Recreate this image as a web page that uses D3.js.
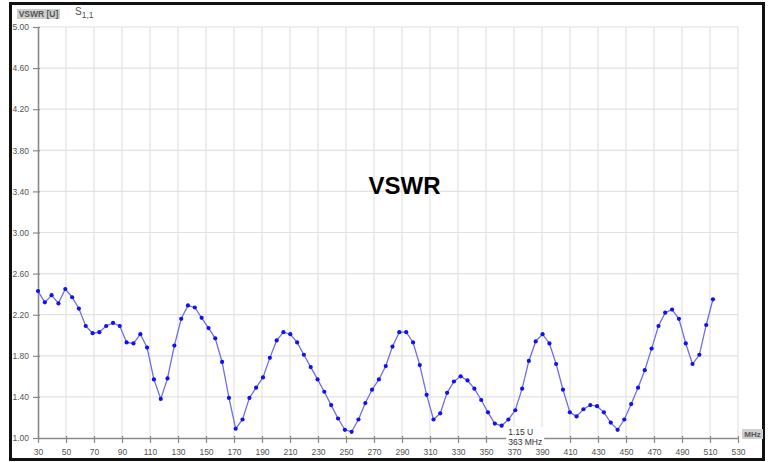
<!DOCTYPE html>
<html>
<head>
<meta charset="utf-8">
<script src="https://cdn.jsdelivr.net/npm/d3@7"></script>
<style>
  body { margin: 0; background: #fff; }
  text { font-family: "Liberation Sans", Arial, sans-serif; }
</style>
</head>
<body>
<div class="chart"></div>
<script>
var svgWidth = 771;
var svgHeight = 462;

// frequency of each sample (MHz)
var freqs = [
  30.0, 34.9, 39.7, 44.6, 49.5, 54.4, 59.2, 64.1, 69.0, 73.8,
  78.7, 83.6, 88.4, 93.3, 98.2, 103.1, 107.9, 112.8, 117.7, 122.5,
  127.4, 132.3, 137.1, 142.0, 146.9, 151.8, 156.6, 161.5, 166.4, 171.2,
  176.1, 181.0, 185.8, 190.7, 195.6, 200.5, 205.3, 210.2, 215.1, 219.9,
  224.8, 229.7, 234.5, 239.4, 244.3, 249.2, 254.0, 258.9, 263.8, 268.6,
  273.5, 278.4, 283.2, 288.1, 293.0, 297.9, 302.7, 307.6, 312.5, 317.3,
  322.2, 327.1, 331.9, 336.8, 341.7, 346.6, 351.4, 356.3, 361.2, 366.0,
  370.9, 375.8, 380.6, 385.5, 390.4, 395.3, 400.1, 405.0, 409.9, 414.7,
  419.6, 424.5, 429.3, 434.2, 439.1, 444.0, 448.8, 453.7, 458.6, 463.4,
  468.3, 473.2, 478.0, 482.9, 487.8, 492.7, 497.5, 502.4, 507.3, 512.1
];

// VSWR readings (U)
var vswr = [
  2.43, 2.32, 2.39, 2.31, 2.45, 2.37, 2.26, 2.09, 2.02, 2.03,
  2.09, 2.12, 2.09, 1.93, 1.92, 2.01, 1.88, 1.57, 1.38, 1.58,
  1.90, 2.16, 2.29, 2.27, 2.17, 2.07, 1.97, 1.74, 1.39, 1.09,
  1.18, 1.39, 1.49, 1.59, 1.78, 1.95, 2.03, 2.01, 1.93, 1.81,
  1.69, 1.57, 1.45, 1.32, 1.19, 1.08, 1.06, 1.18, 1.34, 1.47,
  1.57, 1.70, 1.89, 2.03, 2.03, 1.93, 1.71, 1.42, 1.18, 1.24,
  1.44, 1.55, 1.60, 1.56, 1.48, 1.37, 1.25, 1.14, 1.12, 1.18,
  1.27, 1.48, 1.75, 1.94, 2.01, 1.92, 1.72, 1.47, 1.25, 1.21,
  1.28, 1.32, 1.31, 1.25, 1.15, 1.08, 1.18, 1.33, 1.49, 1.66,
  1.87, 2.09, 2.22, 2.25, 2.16, 1.92, 1.72, 1.81, 2.10, 2.35
];

var xTicks = [30, 50, 70, 90, 110, 130, 150, 170, 190, 210, 230, 250, 270,
  290, 310, 330, 350, 370, 390, 410, 430, 450, 470, 490, 510, 530];
var yTicks = [1.00, 1.40, 1.80, 2.20, 2.60, 3.00, 3.40, 3.80, 4.20, 4.60, 5.00];

var markerFreq = 363;
var markerValue = 1.15;

var svg = d3.select(".chart")
  .append("svg")
  .attr("width", svgWidth)
  .attr("height", svgHeight);

// outer frame
svg.append("rect")
  .attr("x", 10.5)
  .attr("y", 3.5)
  .attr("width", 753)
  .attr("height", 456)
  .attr("fill", "#fff")
  .attr("stroke", "#111")
  .attr("stroke-width", 3);

var xScale = d3.scaleLinear().domain([30, 530]).range([38, 738]);
var yScale = d3.scaleLinear().domain([1, 5]).range([438, 27]);

// grid
svg.append("g")
  .selectAll("line")
  .data(xTicks.slice(1))
  .enter()
  .append("line")
  .attr("x1", d => xScale(d))
  .attr("x2", d => xScale(d))
  .attr("y1", yScale(5))
  .attr("y2", yScale(1))
  .attr("stroke", "#e2e2e2")
  .attr("stroke-width", 1.2);

svg.append("g")
  .selectAll("line")
  .data(yTicks.slice(1))
  .enter()
  .append("line")
  .attr("x1", xScale(30))
  .attr("x2", xScale(530))
  .attr("y1", d => yScale(d))
  .attr("y2", d => yScale(d))
  .attr("stroke", "#e2e2e2")
  .attr("stroke-width", 1.2);

// axes
var bottomAxis = d3.axisBottom(xScale)
  .tickValues(xTicks)
  .tickSize(5)
  .tickSizeOuter(0)
  .tickFormat(d3.format("d"));
var leftAxis = d3.axisLeft(yScale)
  .tickValues(yTicks)
  .tickSize(5)
  .tickSizeOuter(0)
  .tickFormat(d3.format(".2f"));

var xAxis = svg.append("g")
  .attr("transform", `translate(0, ${yScale(1)})`)
  .call(bottomAxis);
var yAxis = svg.append("g")
  .attr("transform", `translate(${xScale(30)}, 0)`)
  .call(leftAxis);

[xAxis, yAxis].forEach(function(ax) {
  ax.select(".domain").attr("stroke", "#8a8a8a").attr("stroke-width", 1.6);
  ax.selectAll(".tick line").attr("stroke", "#8a8a8a").attr("stroke-width", 1.2);
  ax.selectAll(".tick text")
    .attr("fill", "#555")
    .style("font-size", "8.5px")
    .style("font-family", "'Liberation Sans', Arial, sans-serif");
});
xAxis.selectAll(".tick line").attr("y1", -2);
xAxis.selectAll(".tick text").attr("y", 11);
yAxis.selectAll(".tick line").attr("x1", 2);
yAxis.selectAll(".tick text").attr("x", -9);

// data line and points
var points = freqs.map((f, i) => [f, vswr[i]]);

svg.append("path")
  .datum(points)
  .attr("fill", "none")
  .attr("stroke", "#6f6fe6")
  .attr("stroke-width", 1.3)
  .attr("d", d3.line().x(d => xScale(d[0])).y(d => yScale(d[1])));

svg.append("g")
  .selectAll("circle")
  .data(points)
  .enter()
  .append("circle")
  .attr("cx", d => xScale(d[0]))
  .attr("cy", d => yScale(d[1]))
  .attr("r", 2.1)
  .attr("fill", "#1010f0");

// title
svg.append("text")
  .attr("x", 404.5)
  .attr("y", 193.5)
  .attr("text-anchor", "middle")
  .attr("fill", "#000")
  .style("font-weight", "bold")
  .style("font-size", "24px")
  .text("VSWR");

// unit boxes
svg.append("rect")
  .attr("x", 17).attr("y", 9).attr("width", 43).attr("height", 10)
  .attr("fill", "#cfcfcf");
svg.append("text")
  .attr("x", 38.5).attr("y", 17.3)
  .attr("text-anchor", "middle")
  .attr("fill", "#555")
  .style("font-size", "8.5px")
  .style("font-weight", "bold")
  .text("VSWR [U]");

var sLabel = svg.append("text")
  .attr("x", 75).attr("y", 14.5)
  .attr("fill", "#555")
  .style("font-size", "10px");
sLabel.append("tspan").text("S");
sLabel.append("tspan").attr("dy", 3).style("font-size", "8.5px").text("1,1");

svg.append("rect")
  .attr("x", 742).attr("y", 429).attr("width", 21).attr("height", 10)
  .attr("fill", "#cfcfcf");
svg.append("text")
  .attr("x", 752.5).attr("y", 437)
  .attr("text-anchor", "middle")
  .attr("fill", "#555")
  .style("font-size", "8px")
  .style("font-weight", "bold")
  .text("MHz");

// marker readout on a white patch that hides the axis beneath
svg.append("rect")
  .attr("x", xScale(markerFreq) + 2).attr("y", 427)
  .attr("width", 38).attr("height", 19)
  .attr("fill", "#fff");
svg.append("text")
  .attr("x", xScale(markerFreq) + 4).attr("y", 435)
  .attr("fill", "#333")
  .style("font-size", "8.5px")
  .text(markerValue.toFixed(2) + " U");
svg.append("text")
  .attr("x", xScale(markerFreq) + 4).attr("y", 445)
  .attr("fill", "#333")
  .style("font-size", "8.5px")
  .text(markerFreq + " MHz");
</script>
</body>
</html>
